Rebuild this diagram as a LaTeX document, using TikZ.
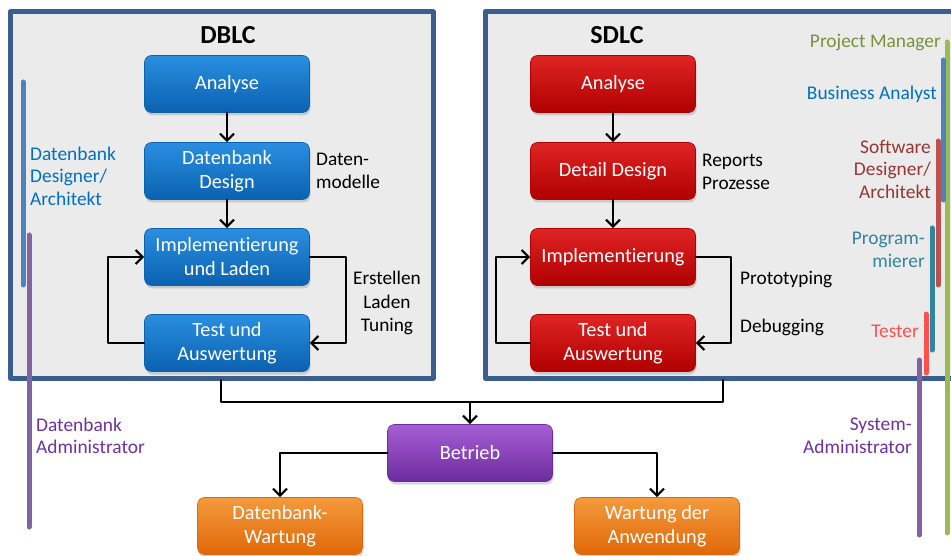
\documentclass[tikz,border=0pt]{standalone}
\usepackage{fontspec}
\setmainfont[Ligatures=NoCommon]{Carlito}
\usetikzlibrary{arrows.meta, shadows}

\definecolor{panelrim}{HTML}{3B5F8C}
\definecolor{panelfill}{HTML}{EBEBEB}
\definecolor{roleblue}{HTML}{0070C0}
\definecolor{rolepurple}{HTML}{7030A0}
\definecolor{rolegreen}{HTML}{77933C}
\definecolor{rolebrown}{HTML}{953735}
\definecolor{roleteal}{HTML}{31859C}
\definecolor{rolered}{HTML}{FF5050}
\definecolor{barblue}{HTML}{4F81BD}
\definecolor{barpurple}{HTML}{8064A2}
\definecolor{bargreen}{HTML}{9BBB59}
\definecolor{barred}{HTML}{C0504D}
\definecolor{barteal}{HTML}{31859C}
\definecolor{barlight}{HTML}{FF4F4F}
\definecolor{blueTop}{HTML}{2A8EE0}
\definecolor{blueMid}{HTML}{0E74C8}
\definecolor{blueBot}{HTML}{0A62B0}
\definecolor{redTop}{HTML}{E02424}
\definecolor{redMid}{HTML}{C80A0A}
\definecolor{redBot}{HTML}{B00000}
\definecolor{violetTop}{HTML}{A65ED6}
\definecolor{violetMid}{HTML}{8040B0}
\definecolor{violetBot}{HTML}{6C2C9C}
\definecolor{orangeTop}{HTML}{F49A3C}
\definecolor{orangeMid}{HTML}{EC7A18}
\definecolor{orangeBot}{HTML}{E06808}

\begin{document}
\begin{tikzpicture}[x=1pt, y=-1pt, line cap=round, line join=round,
    >={Straight Barb[length=7pt, width=14pt, line width=2.2pt]},
    font=\fontsize{20.3}{24}\selectfont,
    phase/.style={rounded corners=7pt, minimum width=165pt, minimum height=57pt,
      align=center, text=white, line width=0.6pt,
      drop shadow={opacity=0.3, shadow xshift=1pt, shadow yshift=-3pt}},
    bluebox/.style={phase, top color=blueTop, middle color=blueMid,
      bottom color=blueBot, draw=blueBot},
    redbox/.style={phase, top color=redTop, middle color=redMid,
      bottom color=redBot, draw=redBot},
    violetbox/.style={phase, top color=violetTop, middle color=violetMid,
      bottom color=violetBot, draw=violetBot},
    orangebox/.style={phase, top color=orangeTop, middle color=orangeMid,
      bottom color=orangeBot, draw=orangeBot},
    flow/.style={->, line width=2.2pt, black},
    link/.style={line width=2.2pt, black},
    rolebar/.style={line width=5pt, line cap=round},
    rolelabel/.style={inner sep=0pt, font=\fontsize{19.4}{22.5}\selectfont},
    note/.style={inner sep=0pt, font=\fontsize{19.3}{23.5}\selectfont}]

  \useasboundingbox (0,0) rectangle (951,556);

  %% ---- panels ----
  \draw[panelrim, fill=panelfill, line width=5pt, line cap=butt] (10,12) rectangle (433,378);
  \draw[panelrim, fill=panelfill, line width=5pt, line cap=butt] (485,12) rectangle (975,378);

  \node[font=\bfseries\fontsize{26}{30}\selectfont] (dbTitle) at (228,35) {DBLC};
  \node[font=\bfseries\fontsize{26}{30}\selectfont] (swTitle) at (617,35) {SDLC};

  %% ---- DBLC phases ----
  \node[bluebox] (dbAnalyse) at (227,84)  {Analyse};
  \node[bluebox] (dbDesign)  at (227,171) {Datenbank\\Design};
  \node[bluebox] (dbImpl)    at (227,257) {Implementierung\\und Laden};
  \node[bluebox] (dbTest)    at (227,343) {Test und\\Auswertung};

  %% ---- SDLC phases ----
  \node[redbox] (swAnalyse) at (613,84)  {Analyse};
  \node[redbox] (swDesign)  at (613,171) {Detail Design};
  \node[redbox] (swImpl)    at (613,257) {Implementierung};
  \node[redbox] (swTest)    at (613,343) {Test und\\Auswertung};

  %% ---- operation ----
  \node[violetbox] (betrieb)    at (470,453) {Betrieb};
  \node[orangebox] (dbWartung)  at (280,526) {Datenbank-\\Wartung};
  \node[orangebox] (appWartung) at (657,526) {Wartung der\\Anwendung};

  %% ---- flow arrows ----
  \draw[flow] (dbAnalyse) -- (dbDesign);
  \draw[flow] (dbDesign) -- (dbImpl);
  \draw[flow] (dbImpl.east) -- ++(36,0) |- (dbTest.east);
  \draw[flow] (dbTest.west) -- ++(-36,0) |- (dbImpl.west);

  \draw[flow] (swAnalyse) -- (swDesign);
  \draw[flow] (swDesign) -- (swImpl);
  \draw[flow] (swImpl.east) -- ++(35,0) |- (swTest.east);
  \draw[flow] (swTest.west) -- ++(-34,0) |- (swImpl.west);

  \coordinate (dbOut) at (221,380);
  \coordinate (swOut) at (723,380);
  \coordinate (merge) at (470,402);
  \draw[link] (dbOut) |- (merge) -| (swOut);
  \draw[flow] (merge) -- (betrieb);
  \draw[flow] (betrieb.west) -| (dbWartung);
  \draw[flow] (betrieb.east) -| (appWartung);

  %% ---- notes ----
  \node[note, anchor=west, align=left] (dbNote1) at (316,171) {Daten-\\modelle};
  \node[note, align=center] (dbNote2) at (387,303) {Erstellen\\Laden\\Tuning};
  \node[note, anchor=west, align=left] (swNote1) at (702,172) {Reports\\Prozesse};
  \node[note, anchor=west] (swNote2) at (740,280) {Prototyping};
  \node[note, anchor=west] (swNote3) at (740,327) {Debugging};

  %% ---- role bars ----
  \draw[rolebar, barblue]   (23,82)   -- (23,285);
  \draw[rolebar, barpurple] (29,235)  -- (29,527);
  \draw[rolebar, bargreen]  (947,42)  -- (947,533);
  \draw[rolebar, barblue]   (943,60)  -- (943,200);
  \draw[rolebar, barred]    (938,141) -- (938,285);
  \draw[rolebar, barteal]   (932,228) -- (932,350);
  \draw[rolebar, barlight]  (926,314) -- (926,373);
  \draw[rolebar, barpurple] (919,360) -- (919,535);

  %% ---- role labels ----
  \node[rolelabel, roleblue, anchor=west, align=left] (dbDesigner) at (30,176)
    {Datenbank\\Designer/\\Architekt};
  \node[rolelabel, rolepurple, anchor=west, align=left] (dbAdmin) at (36,436)
    {Datenbank\\Administrator};
  \node[rolelabel, rolegreen, anchor=east] (pm) at (941,42) {Project Manager};
  \node[rolelabel, roleblue, anchor=east] (ba) at (937,94) {Business Analyst};
  \node[rolelabel, rolebrown, anchor=east, align=right] (swDesigner) at (931,169)
    {Software\\Designer/\\Architekt};
  \node[rolelabel, roleteal, anchor=east, align=right] (prog) at (925,250)
    {Program-\\mierer};
  \node[rolelabel, rolered, anchor=east] (tester) at (919,331) {Tester};
  \node[rolelabel, rolepurple, anchor=east, align=right] (sysAdmin) at (912,436)
    {System-\\Administrator};

\end{tikzpicture}
\end{document}
